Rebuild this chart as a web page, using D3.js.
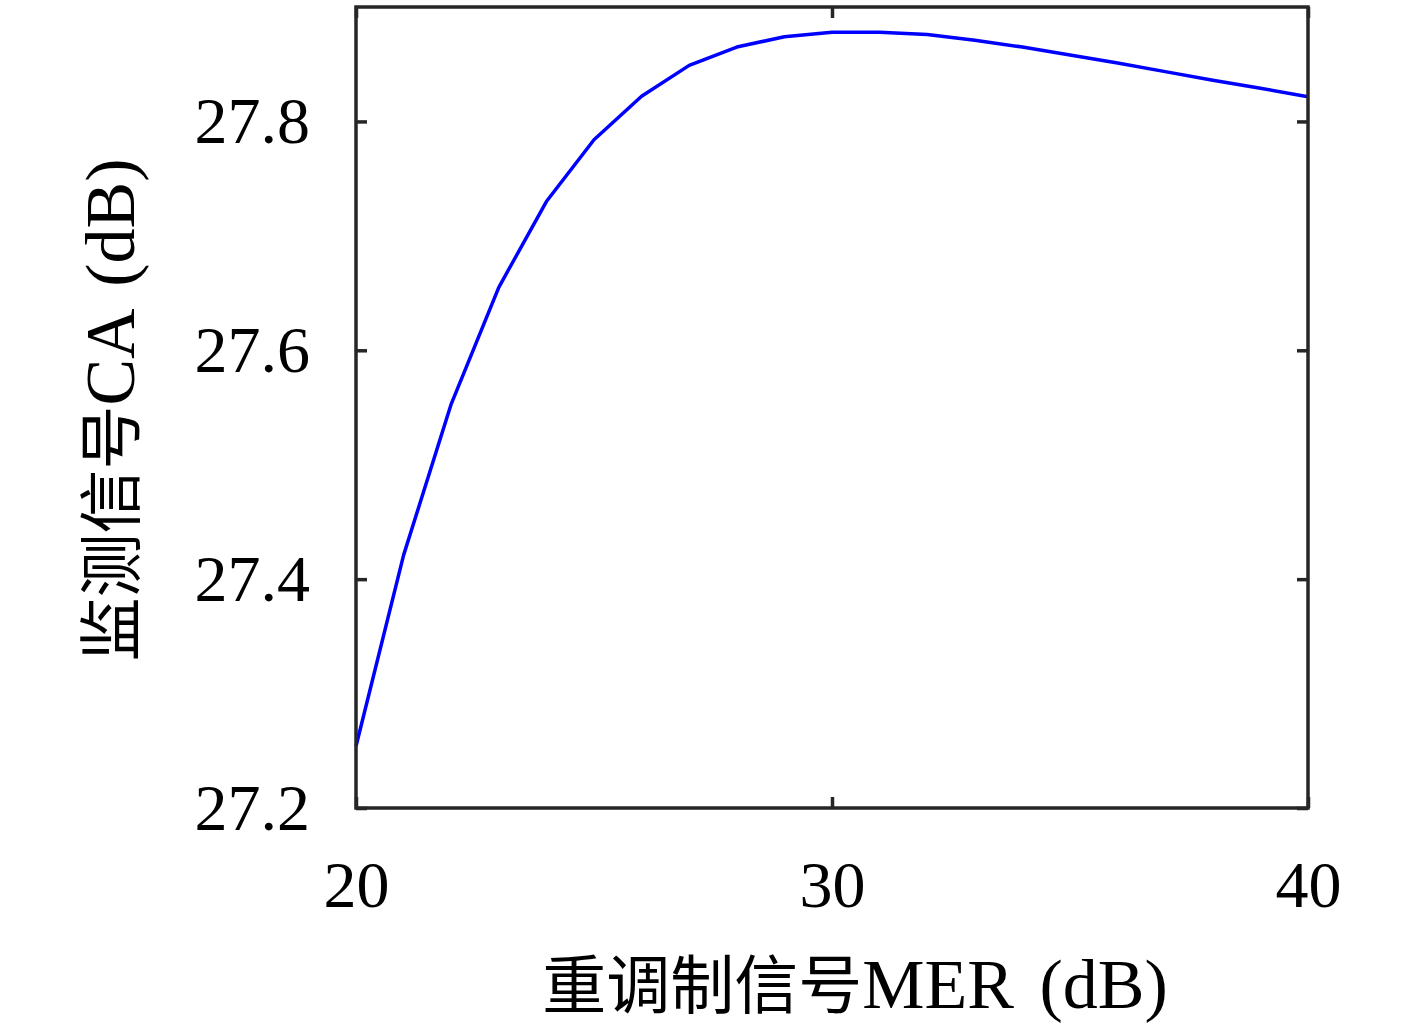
<!DOCTYPE html>
<html>
<head>
<meta charset="utf-8">
<script src="https://cdn.jsdelivr.net/npm/d3@7"></script>
<style>
  html, body { margin: 0; padding: 0; background: #fff; }
  svg { display: block; }
  text { font-family: "Liberation Serif", "Noto Sans CJK SC", serif; fill: #000; }
</style>
</head>
<body>
<svg id="chart" width="1417" height="1032"></svg>
<script>
const merValues = [20, 21, 22, 23, 24, 25, 26, 27, 28, 29, 30, 31, 32, 33, 34, 35, 36, 37, 38, 39, 40];
const caValues = [27.254, 27.421, 27.553, 27.655, 27.730, 27.784, 27.822, 27.849, 27.865, 27.874, 27.878, 27.878, 27.876, 27.871, 27.865, 27.858, 27.851, 27.8435, 27.836, 27.829, 27.8215];
const xTicks = [20, 30, 40];
const yTicks = [27.2, 27.4, 27.6, 27.8];
const xLabelCJK = "重调制信号";
const xLabelLatin = "MER (dB)";
const yLabelCJK = "监测信号";
const yLabelLatin = "CA (dB)";

const svg = d3.select("#chart");
const L = 356, R = 1308, T = 7, B = 808;
const x = d3.scaleLinear().domain([20, 40]).range([L, R]);
const y = d3.scaleLinear().domain([27.2, 27.9]).range([B, T]);
const axisColor = "#262626";
const tickLen = 11;

// data line
const line = d3.line().x((d, i) => x(merValues[i])).y(d => y(d));
svg.append("path").datum(caValues)
  .attr("d", line)
  .attr("fill", "none")
  .attr("stroke", "#0000ff")
  .attr("stroke-width", 3.5)
  .attr("stroke-linejoin", "round");

// axes
const fmtY = d3.format(".1f");
const gb = svg.append("g").attr("transform", `translate(0,${B})`)
  .call(d3.axisBottom(x).tickValues(xTicks).tickSize(-tickLen).tickPadding(52).tickFormat(d3.format("d")));
const gt = svg.append("g").attr("transform", `translate(0,${T})`)
  .call(d3.axisTop(x).tickValues(xTicks).tickSize(-tickLen).tickFormat(""));
const gl = svg.append("g").attr("transform", `translate(${L},0)`)
  .call(d3.axisLeft(y).tickValues(yTicks).tickSize(-tickLen).tickPadding(46).tickFormat(fmtY));
const gr = svg.append("g").attr("transform", `translate(${R},0)`)
  .call(d3.axisRight(y).tickValues(yTicks).tickSize(-tickLen).tickFormat(""));

[gb, gt, gl, gr].forEach(g => {
  g.select(".domain").remove();
  g.selectAll(".tick line").attr("stroke", axisColor).attr("stroke-width", 3.5);
  g.selectAll(".tick text").attr("font-family", "Liberation Serif, serif").attr("font-size", 66).attr("fill", "#000");
});
gb.selectAll(".tick text").attr("dy", "0.71em");

// frame
svg.append("rect")
  .attr("x", L).attr("y", T).attr("width", R - L).attr("height", B - T)
  .attr("fill", "none").attr("stroke", axisColor).attr("stroke-width", 3.5);

// labels
const xl = svg.append("text")
  .attr("x", 855).attr("y", 1008)
  .attr("text-anchor", "middle");
xl.append("tspan").attr("font-size", 64).text(xLabelCJK);
xl.append("tspan").attr("font-size", 70).attr("word-spacing", 8).text(xLabelLatin);

const yl = svg.append("text")
  .attr("transform", `translate(134,410) rotate(-90)`)
  .attr("text-anchor", "middle");
yl.append("tspan").attr("font-size", 64).text(yLabelCJK);
yl.append("tspan").attr("font-size", 70).attr("word-spacing", 8).text(yLabelLatin);
</script>
</body>
</html>
